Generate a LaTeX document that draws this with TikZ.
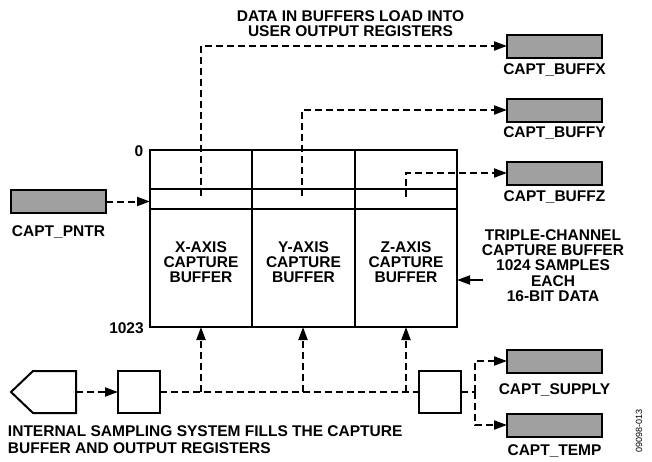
\documentclass[tikz,border=0pt]{standalone}
\usepackage{fontspec}
\setmainfont{Liberation Sans}
\usetikzlibrary{arrows.meta}
\definecolor{regfill}{RGB}{160,160,160}
\begin{document}
\begin{tikzpicture}[x=1pt,y=-1pt,
  every node/.style={inner sep=0pt,outer sep=0pt},
  txt/.style={font=\bfseries\fontsize{15.5}{15.2}\selectfont,align=center},
  reg/.style={draw,line width=2pt,fill=regfill,minimum width=95pt,minimum height=23pt},
  sq/.style={draw,line width=2pt,minimum width=42pt,minimum height=42pt},
  solidline/.style={line width=2pt},
  dline/.style={line width=2pt,dash pattern=on 7pt off 4pt},
  arr/.style={-{Triangle[length=13pt,width=9pt]}}
]
\useasboundingbox (0,0) rectangle (652,461);
% buffer
\node[draw,line width=2pt,minimum width=307pt,minimum height=177pt] (buf) at (303.5,238.5) {};
\coordinate (c1) at (252,150);
\coordinate (c2) at (355,150);
\coordinate (r1) at (150,189);
\coordinate (r2) at (150,209);
\draw[solidline] (c1) -- (c1 |- buf.south);
\draw[solidline] (c2) -- (c2 |- buf.south);
\draw[solidline] (r1) -- (r1 -| buf.east);
\draw[solidline] (r2) -- (r2 -| buf.east);
\node[txt] (xt) at (201,262) {X-AXIS\\CAPTURE\\BUFFER};
\node[txt] (yt) at (303.5,262) {Y-AXIS\\CAPTURE\\BUFFER};
\node[txt] (zt) at (406,262) {Z-AXIS\\CAPTURE\\BUFFER};
\node[txt] (l0) at (139,151) {0};
\node[txt] (l1023) at (126.5,328) {1023};
% registers
\node[reg] (pntr) at (58.5,201.5) {};
\node[txt] (pntrl) at (58.5,232) {CAPT\_PNTR};
\node[reg] (bx) at (554.5,46) {};
\node[txt] (bxl) at (554.5,70) {CAPT\_BUFFX};
\node[reg] (by) at (554.5,110) {};
\node[txt] (byl) at (554.5,133) {CAPT\_BUFFY};
\node[reg] (bz) at (554.5,173) {};
\node[txt] (bzl) at (554.5,197) {CAPT\_BUFFZ};
\node[reg] (sup) at (554.5,361) {};
\node[txt] (supl) at (554.5,390) {CAPT\_SUPPLY};
\node[reg] (tmp) at (554.5,425) {};
\node[txt] (tmpl) at (554.5,451) {CAPT\_TEMP};
% texts
\node[txt,font=\bfseries\fontsize{15.5}{14.5}\selectfont] (top) at (350.5,23.5) {DATA IN BUFFERS LOAD INTO\\USER OUTPUT REGISTERS};
\node[txt] (trip) at (553,265.5) {TRIPLE-CHANNEL\\CAPTURE BUFFER\\1024 SAMPLES\\EACH\\16-BIT DATA};
\node[txt,align=left,anchor=west,font=\bfseries\fontsize{15.5}{16.5}\selectfont] (bot) at (8,439.5) {INTERNAL SAMPLING SYSTEM FILLS THE CAPTURE\\BUFFER AND OUTPUT REGISTERS};
\node[font=\fontsize{9}{9}\selectfont,rotate=90] (code) at (639,431) {09098-013};
% bottom blocks
\draw[solidline] (76,371) -- (76,413) -- (33,413) -- (11,392) -- (33,371) -- cycle;
\coordinate (pent) at (76,392);
\node[sq] (s1) at (139,392) {};
\node[sq] (s2) at (439.5,392) {};
% connectors
\draw[dline,arr] (pntr.east) -- (buf.west |- pntr.east);
\coordinate (xs) at (201,196);
\coordinate (ys) at (302,196);
\coordinate (zs) at (406,197);
\draw[dline,arr] (xs) |- (bx.west);
\draw[dline,arr] (ys) |- (by.west);
\draw[dline,arr] (zs) |- (bz.west);
\draw[dline,arr] (pent) -- (s1.west);
\draw[dline] (s1.east) -- (s2.west);
\coordinate (xb) at (201,392);
\coordinate (yb) at (303,392);
\coordinate (zb) at (406,392);
\draw[dline,arr] (xb) -- (xb |- buf.south);
\draw[dline,arr] (yb) -- (yb |- buf.south);
\draw[dline,arr] (zb) -- (zb |- buf.south);
\coordinate (j) at (475,392);
\draw[dline] (s2.east) -- (j);
\draw[dline,arr] (j) |- (sup.west);
\draw[dline,arr] (j) |- (tmp.west);
\coordinate (ta) at (483,280);
\draw[solidline,arr] (ta) -- (ta -| buf.east);
\end{tikzpicture}
\end{document}
